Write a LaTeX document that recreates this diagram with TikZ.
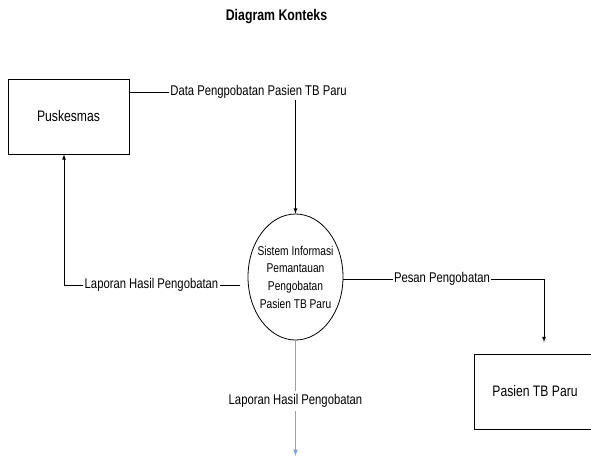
\documentclass[tikz,border=0pt]{standalone}
\usepackage{fontspec}
\setmainfont{Liberation Sans}[FakeStretch=0.8]
\usepackage{tikz}
\usetikzlibrary{arrows,shapes.geometric}
\definecolor{flowblue}{RGB}{125,165,220}

\begin{document}
\begin{tikzpicture}[x=1pt,y=-1pt,line width=0.8pt,>=latex,
	entity/.style={draw,minimum width=121pt,minimum height=75pt,inner sep=0pt,font=\fontsize{15.2}{17}\selectfont},
	process/.style={draw,ellipse,minimum width=95pt,minimum height=126pt,inner xsep=-6pt,inner ysep=0pt,align=center,font=\fontsize{12.75}{17.7}\selectfont},
	flowlabel/.style={inner sep=1pt,font=\fontsize{14.1}{16}\selectfont}]
	\useasboundingbox (0,0) rectangle (591,457);
	\node[font=\fontsize{15.4}{17}\selectfont\bfseries] (title) at (276.5,17) {Diagram Konteks};
	\node[entity] (puskesmas) at (68.5,116.5) {Puskesmas};
	\node[entity,minimum width=122pt] (pasien) at (535,391.5) {Pasien TB Paru};
	\node[process] (sistem) at (295.5,277) {Sistem Informasi\\Pemantauan\\Pengobatan\\Pasien TB Paru};
	\node[flowlabel] (lblData) at (258.5,92) {Data Pengpobatan Pasien TB Paru};
	\node[flowlabel] (lblLaporan) at (151.5,285) {Laporan Hasil Pengobatan};
	\node[flowlabel] (lblPesan) at (442,279) {Pesan Pengobatan};
	\coordinate (lapStart) at (240,285);
	\coordinate (pesanEnd) at (544,342);
	\coordinate (lapEnd) at (295.5,456);
	% data flows
	\draw (puskesmas.east |- lblData) -- (lblData.west);
	\draw[->] (lblData.south -| sistem.north) -- (sistem.north);
	\draw (lapStart) -- (lblLaporan.east);
	\draw[->] (lblLaporan.west) -| (puskesmas.south -| 64,0);
	\draw (sistem.east |- lblPesan) -- (lblPesan.west);
	\draw[->] (lblPesan.east) -| (pesanEnd);
	\draw[->,flowblue,line width=1.2pt] (sistem.south) -- (lapEnd);
	\node[flowlabel,fill=white,inner sep=3pt] (lblHasil) at (295.5,401) {Laporan Hasil Pengobatan};
\end{tikzpicture}
\end{document}
